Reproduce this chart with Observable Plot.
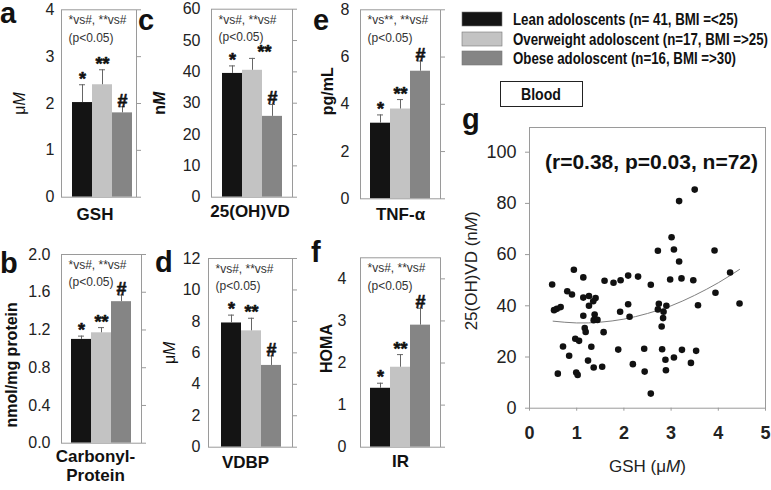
<!DOCTYPE html>
<html><head><meta charset="utf-8">
<script src="https://cdn.jsdelivr.net/npm/d3@7"></script>
<script src="https://cdn.jsdelivr.net/npm/@observablehq/plot@0.6"></script>
<style>
body{margin:0;background:#fff;}
#wrap{position:relative;width:771px;height:490px;overflow:hidden;background:#fff;}
#wrap > svg{position:absolute;left:0;top:0;}
</style>
</head><body><div id="wrap"></div>
<script>
// ---------- data ----------
const groups = ["Lean adoloscents (n= 41, BMI =<25)", "Overweight adoloscent (n=17, BMI =>25)", "Obese adoloscent (n=16, BMI =>30)"];
const sigLabels = ["*", "**", "#"];
const gshMean = [2.02, 2.4, 1.8];
const gshErr = [0.38, 0.32, 0.13];
const vdMean = [39.5, 40.5, 25.8];
const vdErr = [2.4, 3.8, 3.8];
const tnfMean = [3.2, 3.8, 5.4];
const tnfErr = [0.35, 0.4, 0.43];
const carbMean = [1.1, 1.17, 1.5];
const carbErr = [0.035, 0.055, 0.07];
const vdbpMean = [7.9, 7.4, 5.2];
const vdbpErr = [0.5, 0.8, 0.6];
const homaMean = [1.4, 1.9, 2.9];
const homaErr = [0.12, 0.3, 0.4];
const noteA = "*vs#, **vs#\n(p<0.05)";
const noteE = "*vs**, **vs#\n(p<0.05)";
const ticksA = [0, 1, 2, 3, 4];
const ticksB = [0, 0.4, 0.8, 1.2, 1.6, 2.0];
const ticksC = [0, 10, 20, 30, 40, 50, 60];
const ticksD = [0, 2, 4, 6, 8, 10, 12];
const ticksE = [0, 2, 4, 6, 8];
const ticksF = [0, 1, 2, 3, 4];
// scatter g: GSH (µM) vs 25(OH)VD (nM)
const gshX = [0.48,0.94,1.14,1.59,1.78,1.93,2.09,2.30,0.80,0.90,1.14,1.26,1.40,1.35,1.26,0.52,0.58,0.66,2.09,1.92,2.12,1.14,1.38,1.36,1.44,1.17,1.19,1.57,0.97,1.05,0.71,1.31,0.84,1.88,1.24,1.36,1.54,0.60,0.99,1.02,2.19,2.43,2.44,
  3.50,3.17,3.01,2.72,3.06,3.92,3.17,2.57,2.98,3.22,3.47,4.25,3.94,3.57,4.45,2.74,2.90,2.72,2.84,2.83,2.80,2.81,3.23,3.53,2.88,3.06,3.42,2.89,2.57];
const vdY = [48.3,54.1,51.1,49.8,49.0,50.0,51.8,51.4,45.7,44.4,43.2,43.8,43.0,41.8,40.0,38.3,38.8,39.5,40.6,37.7,35.7,36.1,36.6,34.4,34.5,31.3,29.8,29.7,27.1,26.3,24.1,24.0,20.5,22.9,18.6,15.9,16.2,13.5,13.9,13.0,17.2,23.2,14.3,
  85.4,80.9,66.8,61.5,62.0,61.6,57.3,48.2,50.3,50.7,50.0,53.0,45.1,40.2,40.9,40.8,40.0,38.6,37.7,35.2,31.9,23.0,22.8,22.4,18.9,19.8,17.7,14.8,5.7];
const trendX = [0.5, 1.0, 1.5, 2.0, 2.5, 3.0, 3.5, 4.0, 4.45];
const trendY = [34.0, 33.3, 33.6, 34.8, 37.0, 40.0, 44.1, 49.0, 54.2];
const gTicksX = [0, 1, 2, 3, 4, 5];
const gTicksY = [0, 20, 40, 60, 80, 100];
const statText = "(r=0.38, p=0.03, n=72)";

// ---------- layout / style ----------
const W = 771, H = 490;
const FONT = "'Liberation Sans', Arial, Helvetica, sans-serif";
const BAR_COLORS = ["#141414", "#c3c3c3", "#858585"];
const FRAME = "#9a9a9a";
const idx = [0, 1, 2];
const wrap = document.getElementById("wrap");

function italicM(svg) {
  const map = {"μM": "μ<tspan font-style='italic'>M</tspan>", "nM": "n<tspan font-style='italic'>M</tspan>",
    "GSH (μM)": "GSH (μ<tspan font-style='italic'>M</tspan>)", "25(OH)VD (nM)": "25(OH)VD (n<tspan font-style='italic'>M</tspan>)"};
  svg.querySelectorAll("text").forEach(el => {
    if (el.childElementCount === 0 && map[el.textContent]) el.innerHTML = map[el.textContent];
  });
}

function barPanel(c) {
  const [l, r, t, b] = c.frame;
  const sdx = c.sigDx || [0, 0, 0];
  const rows = idx.map(i => ({g: i, m: c.means[i], e: c.errs[i], s: sigLabels[i]}));
  const svg = Plot.plot({
    width: W, height: H,
    marginLeft: l, marginRight: W - r, marginTop: t, marginBottom: H - b,
    style: {background: "transparent", fontFamily: FONT, overflow: "visible", color: "#222"},
    x: {domain: idx, range: c.bars, padding: 0, axis: null},
    y: {domain: c.yDomain, axis: null},
    color: {domain: idx, range: BAR_COLORS},
    marks: [
      Plot.barY(rows, {x: "g", y: "m", fill: "g"}),
      Plot.ruleX(rows, {x: "g", y1: "m", y2: d => d.m + d.e, stroke: "#666", strokeWidth: 1}),
      Plot.tickY(rows, {x: "g", y: d => d.m + d.e, stroke: "#666", strokeWidth: 1, inset: 7}),
      ...idx.map(i => Plot.text([rows[i]], {x: "g", y: d => d.m + d.e, text: "s", lineAnchor: "bottom", dx: sdx[i], dy: c.sigDy || 0,
        fontSize: 18, fontWeight: "bold", fill: "#111", stroke: "#111", strokeWidth: 0.6})),
      Plot.frame({stroke: FRAME}),
      Plot.axisY({ticks: c.ticks, tickFormat: c.tickFormat, tickSize: 0, tickPadding: c.tickGap, fontSize: 16, label: null}),
      Plot.axisY({anchor: "right", ticks: c.ticks, tickSize: 4, tickFormat: () => "", label: null, stroke: FRAME}),
      Plot.text([c.note], {frameAnchor: "top-left", dx: 7, dy: 2, fontSize: 12, lineHeight: 1.45, fill: "#333"}),
      Plot.text([c.yLabel], {frameAnchor: "left", rotate: -90, textAnchor: "middle", lineAnchor: "middle",
        dx: c.yLabelX - l, dy: c.yLabelDy, fontSize: 16, fontWeight: c.yLabelWeight, fill: "#111"}),
      Plot.text([c.xLabel], {frameAnchor: "bottom", lineAnchor: "top", dx: c.xLabelDx, dy: c.xLabelDy,
        fontSize: 17, fontWeight: "bold", lineHeight: 1.1, fill: "#111"})
    ]
  });
  italicM(svg);
  wrap.appendChild(svg);
}

barPanel({means: gshMean, errs: gshErr, yDomain: [0, 4], ticks: ticksA, tickFormat: d3.format("d"),
  frame: [61, 136, 9.3, 196.7], bars: [72, 132], tickGap: 7, note: noteA,
  yLabel: "μM", yLabelX: 19, yLabelDy: 0, yLabelWeight: "normal", xLabel: "GSH", xLabelDx: -4, xLabelDy: 10});
barPanel({means: vdMean, errs: vdErr, yDomain: [0, 60], ticks: ticksC, tickFormat: d3.format("d"),
  frame: [211, 292, 8.7, 196.7], bars: [222, 282], tickGap: 11, note: noteA, sigDx: [0, 12, 0],
  yLabel: "nM", yLabelX: 159, yLabelDy: 0, yLabelWeight: "bold", xLabel: "25(OH)VD", xLabelDx: -2, xLabelDy: 7});
barPanel({means: tnfMean, errs: tnfErr, yDomain: [0, 8], ticks: ticksE, tickFormat: d3.format("d"),
  frame: [360, 440, 9.3, 198.3], bars: [370, 430], tickGap: 11, note: noteE,
  yLabel: "pg/mL", yLabelX: 327, yLabelDy: -13, yLabelWeight: "bold", xLabel: "TNF-α", xLabelDx: 0, xLabelDy: 8});
barPanel({means: carbMean, errs: carbErr, yDomain: [0, 2], ticks: ticksB, tickFormat: d3.format(".1f"),
  frame: [61, 141, 254, 442.7], bars: [71, 131], tickGap: 11, note: noteA,
  yLabel: "nmol/mg protein", yLabelX: 11, yLabelDy: 16, yLabelWeight: "bold", xLabel: "Carbonyl-\nProtein", xLabelDx: -6, xLabelDy: 6});
barPanel({means: vdbpMean, errs: vdbpErr, yDomain: [0, 12], ticks: ticksD, tickFormat: d3.format("d"),
  frame: [208, 292, 258, 446.7], bars: [220, 282], tickGap: 8, note: noteA,
  yLabel: "μM", yLabelX: 169, yLabelDy: 0, yLabelWeight: "normal", xLabel: "VDBP", xLabelDx: -5, xLabelDy: 8});
barPanel({means: homaMean, errs: homaErr, yDomain: [0, 4.5], ticks: ticksF, tickFormat: d3.format("d"),
  frame: [360, 440, 257.3, 446.7], bars: [370, 430], tickGap: 14, note: noteA,
  yLabel: "HOMA", yLabelX: 326, yLabelDy: -4, yLabelWeight: "bold", xLabel: "IR", xLabelDx: 0, xLabelDy: 7});

// ---------- scatter g ----------
const pts = gshX.map((x, i) => ({x, y: vdY[i]}));
const trend = trendX.map((x, i) => ({x, y: trendY[i]}));
{
  const l = 529, r = 765, t = 127, b = 407.7;
  const svg = Plot.plot({
    width: W, height: H, marginLeft: l, marginRight: W - r, marginTop: t, marginBottom: H - b,
    style: {background: "transparent", fontFamily: FONT, overflow: "visible", color: "#222"},
    x: {domain: [0, 5], axis: null},
    y: {domain: [0, (b - t) / 2.56], axis: null},
    marks: [
      Plot.frame({stroke: FRAME}),
      Plot.axisX({ticks: gTicksX, tickFormat: d3.format("d"), tickSize: 3, tickPadding: 15, fontSize: 18, fontWeight: "bold", label: null, stroke: FRAME}),
      Plot.axisY({ticks: gTicksY, tickFormat: d3.format("d"), tickSize: 4, tickPadding: 9, fontSize: 18, label: null, stroke: FRAME}),
      Plot.line(trend, {x: "x", y: "y", curve: "natural", stroke: "#808080", strokeWidth: 1}),
      Plot.dot(pts, {x: "x", y: "y", r: 3.3, fill: "#111", stroke: "none"}),
      Plot.text([statText], {frameAnchor: "top", dx: 4, dy: 35, lineAnchor: "middle", fontSize: 21, fontWeight: "bold", fill: "#111"}),
      Plot.text(["GSH (μM)"], {frameAnchor: "bottom", dy: 58, lineAnchor: "middle", fontSize: 17}),
      Plot.text(["25(OH)VD (nM)"], {frameAnchor: "left", rotate: -90, textAnchor: "middle", lineAnchor: "middle", dx: 471 - l, dy: 3, fontSize: 17})
    ]
  });
  italicM(svg);
  wrap.appendChild(svg);
}

// ---------- panel letters, legend, "Blood" box ----------
{
  const svg = d3.create("svg").attr("width", W).attr("height", H).style("font-family", FONT).style("overflow", "visible");
  const letters = [["a", 0, 23], ["b", 0, 273], ["c", 138, 30], ["d", 155, 272], ["e", 313, 30], ["f", 311, 262], ["g", 462, 129]];
  svg.selectAll("text.letter").data(letters).join("text").attr("class", "letter")
    .attr("x", d => d[1]).attr("y", d => d[2]).attr("font-size", 29).attr("font-weight", "bold").attr("fill", "#111").text(d => d[0]);
  const legY = [12, 32, 51];
  const legW = [225, 255, 223];
  const lg = svg.append("g");
  lg.selectAll("rect").data(idx).join("rect")
    .attr("x", 462).attr("y", i => legY[i]).attr("width", 40).attr("height", 14)
    .attr("fill", i => BAR_COLORS[i]).attr("stroke", "#777").attr("stroke-width", 0.6);
  lg.selectAll("text").data(idx).join("text")
    .attr("x", 513).attr("y", i => legY[i] + 13).attr("font-size", 16.5).attr("font-weight", "bold").attr("fill", "#111")
    .attr("textLength", i => legW[i]).attr("lengthAdjust", "spacingAndGlyphs").text(i => groups[i]);
  svg.append("rect").attr("x", 500.5).attr("y", 81.5).attr("width", 82).attr("height", 25).attr("fill", "none").attr("stroke", "#222").attr("stroke-width", 1);
  svg.append("text").attr("x", 541).attr("y", 99.5).attr("text-anchor", "middle").attr("font-size", 17).attr("font-weight", "bold")
    .attr("textLength", 40).attr("lengthAdjust", "spacingAndGlyphs").attr("fill", "#111").text("Blood");
  wrap.appendChild(svg.node());
}
</script>
</body></html>
